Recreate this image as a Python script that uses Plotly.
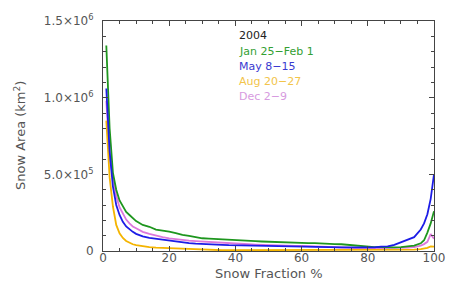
import plotly.graph_objects as go

snow_fraction = [1, 2, 3, 4, 5, 6, 7, 8, 9, 10,
                 12, 14, 16, 18, 20, 22, 24, 26, 28, 30, 32, 34, 36, 38, 40,
                 42, 44, 46, 48, 50, 52, 54, 56, 58, 60, 62, 64, 66, 68, 70,
                 72, 74, 76, 78, 80, 82, 84, 86, 88, 90, 92, 94, 96, 97, 98, 99, 100]

# values in thousands of km^2
jan = [1340, 800, 510, 400, 330, 290, 255, 235, 215, 195,
       170, 158, 140, 134, 126, 117, 105, 99, 90, 83, 81, 78, 76, 72, 70,
       69, 66, 64, 62, 60, 59, 57, 56, 55, 54, 52, 51, 48, 47, 45,
       44, 40, 33, 29, 26, 25, 26, 24, 24, 25, 28, 35, 50, 70, 120, 180, 260]
may = [1060, 650, 420, 300, 235, 190, 160, 140, 125, 112,
       95, 86, 80, 73, 68, 62, 56, 52, 48, 45, 43, 41, 40, 38, 37,
       36, 35, 33, 32, 31, 30, 30, 29, 28, 28, 27, 26, 26, 25, 25,
       24, 24, 23, 23, 23, 24, 28, 30, 40, 55, 70, 90, 140, 180, 240, 340, 500]
aug = [850, 480, 290, 170, 115, 85, 65, 52, 44, 38,
       30, 25, 22, 20, 18, 15, 12, 10, 8, 7, 6, 6, 5, 5, 5,
       5, 5, 5, 5, 5, 5, 5, 5, 5, 5, 5, 5, 5, 5, 5,
       5, 5, 5, 5, 5, 5, 5, 5, 5, 6, 7, 9, 12, 15, 20, 30, 28]
dec = [980, 620, 480, 360, 285, 240, 205, 180, 160, 148,
       125, 112, 100, 90, 82, 76, 72, 68, 65, 62, 58, 55, 52, 50, 48,
       46, 44, 42, 40, 38, 37, 36, 35, 34, 33, 31, 30, 28, 26, 25,
       22, 20, 19, 18, 18, 18, 18, 18, 18, 19, 22, 26, 35, 45, 60, 110, 80]

series_names = ["Jan 25−Feb 1", "May 8−15", "Aug 20−27", "Dec 2−9"]
series_values = [jan, may, aug, dec]
line_colors = ["#1e961e", "#1c1ce6", "#f4b400", "#dc78dc"]
text_colors = ["#33a033", "#3a3ad0", "#f2c44a", "#d79be0"]

y_tickvals = [0, 500000, 1000000, 1500000]
y_ticktext = ["0", "5.0×10<sup>5</sup>", "1.0×10<sup>6</sup>", "1.5×10<sup>6</sup>"]
x_tickvals = [0, 20, 40, 60, 80, 100]

fig = go.Figure()
draw_order = [3, 2, 0, 1]
for i in draw_order:
    fig.add_trace(go.Scatter(
        x=snow_fraction, y=[v * 1000 for v in series_values[i]],
        mode="lines", line=dict(color=line_colors[i], width=1.8),
        name=series_names[i], showlegend=False))

FAM = "DejaVu Sans, Verdana, sans-serif"
tick_font = dict(family=FAM, size=12, color="#555555")
title_font = dict(family=FAM, size=13, color="#555555")

fig.update_layout(
    width=457, height=282,
    margin=dict(l=103, r=16, t=12, b=31),
    paper_bgcolor="white", plot_bgcolor="white",
    font=tick_font,
    xaxis=dict(range=[0, 100], tickvals=x_tickvals, ticks="inside", ticklen=5,
               tickcolor="#444", showline=True, linecolor="#444", linewidth=1,
               mirror="ticks", showgrid=False, zeroline=False,
               minor=dict(dtick=5, ticks="inside", ticklen=3, tickcolor="#444"),
               tickfont=tick_font, ticklabelstandoff=-4),
    yaxis=dict(range=[0, 1500000], tickvals=y_tickvals, ticktext=y_ticktext,
               ticks="inside", ticklen=5, tickcolor="#444", showline=True,
               linecolor="#444", linewidth=1, mirror="ticks", showgrid=False,
               zeroline=False,
               minor=dict(dtick=100000, ticks="inside", ticklen=3, tickcolor="#444"),
               tickfont=tick_font, ticklabelstandoff=6),
)

fig.add_annotation(text="Snow Fraction %", xref="paper", yref="paper",
                   x=0.5, y=0, yshift=-22, xanchor="center", yanchor="middle",
                   showarrow=False, font=title_font)
fig.add_annotation(text="Snow Area (km<sup>2</sup>)", xref="paper", yref="paper",
                   x=0, xshift=-83, y=0.5, textangle=-90, xanchor="center",
                   yanchor="middle", showarrow=False, font=title_font)

fig.add_annotation(text="2004", xref="paper", yref="paper", x=0.405, y=1,
                   yshift=-14, xanchor="left", yanchor="middle", showarrow=False,
                   font=dict(family=FAM, size=11, color="#222"))
for k in range(4):
    fig.add_annotation(text=series_names[k], xref="paper", yref="paper",
                       x=0.405, y=1, yshift=-30 - 15.3 * k, xanchor="left",
                       yanchor="middle", showarrow=False,
                       font=dict(family=FAM, size=11, color=text_colors[k]))

fig.write_html("out.html", config={"displayModeBar": False},
               post_script="document.body.style.margin='0px';")
